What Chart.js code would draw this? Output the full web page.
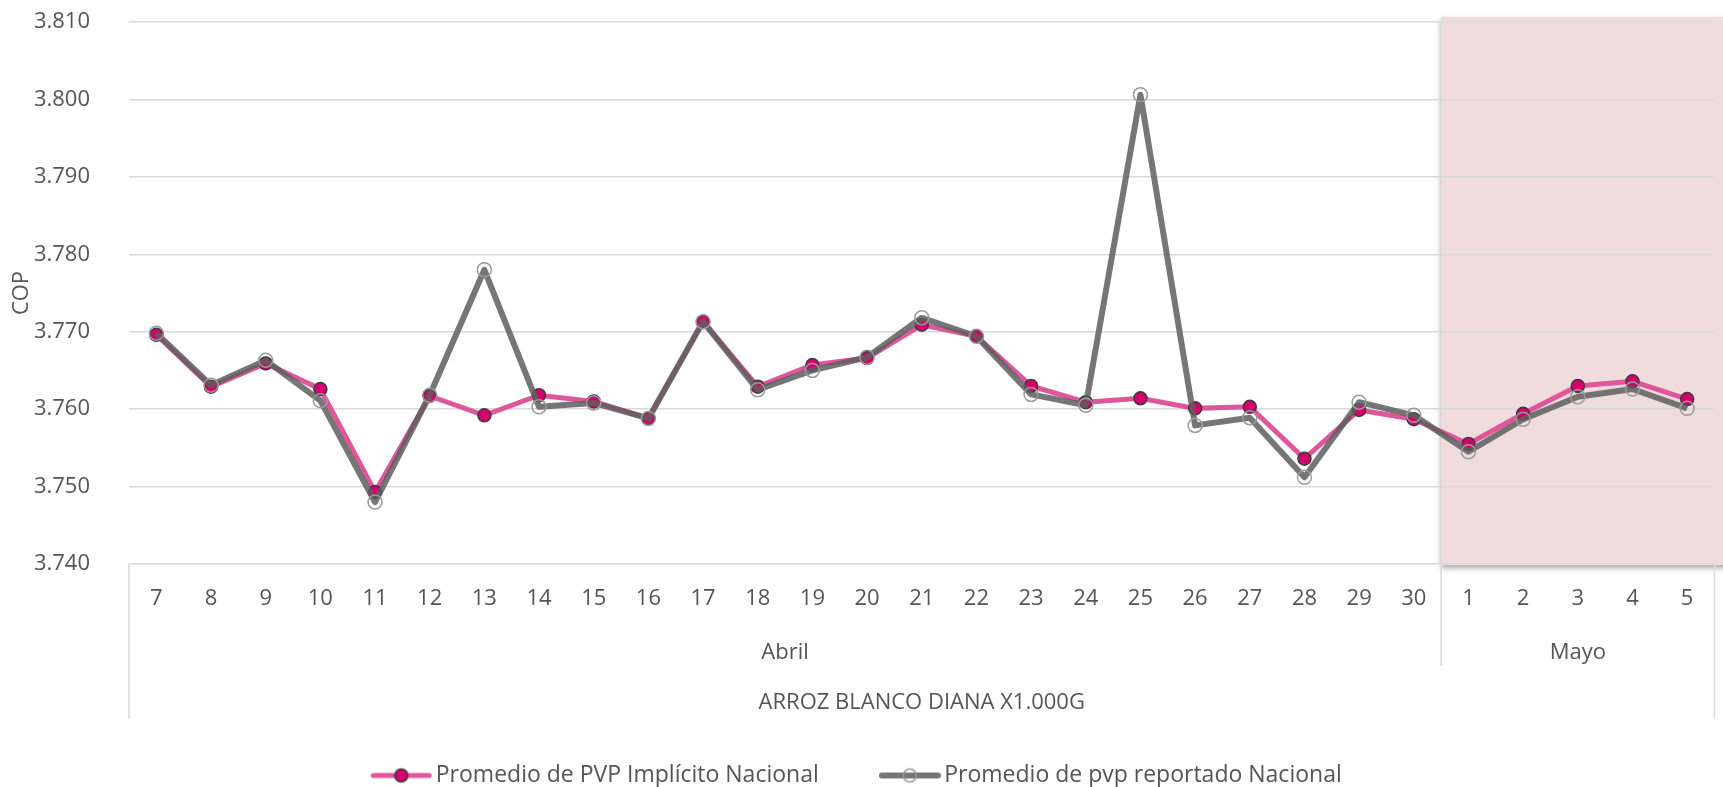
<!DOCTYPE html>
<html>
<head>
<meta charset="utf-8">
<script src="https://cdn.jsdelivr.net/npm/chart.js@4.4.1/dist/chart.umd.min.js"></script>
<style>
  html, body { margin: 0; padding: 0; background: #fff; }
</style>
</head>
<body>
<canvas id="myChart" width="1723" height="787"></canvas>
<script>
// datos
var dias = ['7', '8', '9', '10', '11', '12', '13', '14', '15', '16', '17', '18', '19', '20',
            '21', '22', '23', '24', '25', '26', '27', '28', '29', '30', '1', '2', '3', '4', '5'];
var meses = ['Abril', 'Mayo'];
var diasPorMes = [24, 5];
var producto = 'ARROZ BLANCO DIANA X1.000G';

var pvpImplicito = [3769.6, 3762.9, 3765.9, 3762.6, 3749.3, 3761.7, 3759.2, 3761.8, 3761.0, 3758.8,
                    3771.3, 3762.9, 3765.7, 3766.6, 3770.9, 3769.4, 3763.0, 3760.9, 3761.4, 3760.1,
                    3760.3, 3753.6, 3759.9, 3758.7, 3755.5, 3759.4, 3763.0, 3763.6, 3761.3];
var pvpReportado = [3769.8, 3763.1, 3766.3, 3761.1, 3748.0, 3761.8, 3778.0, 3760.3, 3760.8, 3758.8,
                    3771.3, 3762.5, 3765.0, 3766.7, 3771.8, 3769.4, 3761.9, 3760.5, 3800.6, 3757.9,
                    3758.9, 3751.2, 3760.9, 3759.2, 3754.5, 3758.7, 3761.6, 3762.6, 3760.1];

var yMin = 3740, yMax = 3810, yPaso = 10;

var FONT = '"Segoe UI", "Open Sans", sans-serif';
var TEXT = '#555555';
var LINEA_EJE = '#d9d9d9';

// icono de leyenda: linea + marcador
function iconoLeyenda(color, ancho, relleno, borde) {
    var c = document.createElement('canvas');
    c.width = 62; c.height = 18;
    var g = c.getContext('2d');
    g.strokeStyle = color; g.lineWidth = ancho; g.lineCap = 'round';
    g.beginPath(); g.moveTo(3, 9); g.lineTo(59, 9); g.stroke();
    g.beginPath(); g.arc(31, 9, 6.5, 0, Math.PI * 2);
    g.fillStyle = relleno; g.fill();
    g.lineWidth = 1.5; g.strokeStyle = borde; g.stroke();
    return c;
}
var iconos = [
    iconoLeyenda('#df579b', 5, '#d5006d', '#3c3c3c'),
    iconoLeyenda('#767676', 6, 'rgba(0,0,0,0)', '#9a9a9a')
];

// fondo rosado para mayo y etiquetas agrupadas del eje x
var plugExcel = {
    id: 'excel',
    beforeDraw: function (chart) {
        var ctx = chart.ctx, a = chart.chartArea, x = chart.scales.x;
        var corte = (x.getPixelForValue(diasPorMes[0] - 1) + x.getPixelForValue(diasPorMes[0])) / 2;
        ctx.save();
        ctx.shadowColor = 'rgba(0,0,0,0.35)';
        ctx.shadowBlur = 6;
        ctx.shadowOffsetY = 3;
        ctx.fillStyle = '#f0dcdc';
        ctx.fillRect(corte, a.top - 5, chart.width - corte + 10, a.bottom - a.top + 6);
        ctx.restore();
    },
    afterDraw: function (chart) {
        var ctx = chart.ctx, a = chart.chartArea, x = chart.scales.x;
        var corte = (x.getPixelForValue(diasPorMes[0] - 1) + x.getPixelForValue(diasPorMes[0])) / 2;
        ctx.save();
        ctx.strokeStyle = LINEA_EJE;
        ctx.lineWidth = 1.5;
        ctx.beginPath();
        ctx.moveTo(a.left, a.bottom); ctx.lineTo(a.left, a.bottom + 155);
        ctx.moveTo(corte, a.bottom); ctx.lineTo(corte, a.bottom + 102);
        ctx.moveTo(a.right, a.bottom); ctx.lineTo(a.right, a.bottom + 155);
        ctx.stroke();
        ctx.fillStyle = TEXT;
        ctx.font = '22px ' + FONT;
        ctx.textAlign = 'center';
        ctx.textBaseline = 'middle';
        ctx.fillText(meses[0], (a.left + corte) / 2, a.bottom + 89);
        ctx.fillText(meses[1], (corte + a.right) / 2, a.bottom + 89);
        ctx.fillText(producto, (a.left + a.right) / 2, a.bottom + 139);
        ctx.restore();
    }
};

var ctx = document.getElementById('myChart');
var myChart = new Chart(ctx, {
    type: 'line',
    data: {
        labels: dias,
        datasets: [{
            label: 'Promedio de PVP Implícito Nacional',
            data: pvpImplicito,
            order: 2,
            borderColor: '#df579b',
            borderWidth: 5,
            pointRadius: 6.5,
            pointBorderWidth: 1.5,
            pointBackgroundColor: '#d5006d',
            pointBorderColor: '#3c3c3c',
            tension: 0
        }, {
            label: 'Promedio de pvp reportado Nacional',
            data: pvpReportado,
            order: 1,
            borderColor: 'rgba(94,94,94,0.85)',
            borderWidth: 6,
            borderJoinStyle: 'round',
            pointRadius: 7,
            pointBorderWidth: 1.5,
            pointBackgroundColor: 'rgba(0,0,0,0)',
            pointBorderColor: '#9a9a9a',
            tension: 0
        }]
    },
    options: {
        responsive: false,
        animation: false,
        layout: { padding: { top: 22, right: 3, left: 0, bottom: -10 } },
        scales: {
            x: {
                offset: true,
                grid: { display: false, drawTicks: false },
                border: { display: false },
                ticks: { color: TEXT, font: { family: FONT, size: 22 }, padding: 22, maxRotation: 0, autoSkip: false },
                afterFit: function (s) { s.height = 132; }
            },
            y: {
                min: yMin,
                max: yMax,
                grid: { color: LINEA_EJE, lineWidth: 1.5, drawTicks: false },
                border: { display: false },
                ticks: {
                    stepSize: yPaso,
                    color: TEXT,
                    font: { family: FONT, size: 22 },
                    padding: 39,
                    callback: function (v) {
                        var r = String(v % 1000);
                        while (r.length < 3) r = '0' + r;
                        return Math.floor(v / 1000) + '.' + r;
                    }
                },
                title: { display: true, text: 'COP', color: TEXT, font: { family: FONT, size: 22 }, padding: { top: 9, bottom: 0 } },
                afterFit: function (s) {
                    s.width = 129;
                    s.paddingTop = 12;
                    s.paddingBottom = 12;
                }
            }
        },
        plugins: {
            tooltip: { enabled: false },
            legend: {
                position: 'bottom',
                labels: {
                    color: TEXT,
                    font: { family: FONT, size: 23 },
                    usePointStyle: true,
                    pointStyleWidth: 46,
                    padding: 68,
                    generateLabels: function (chart) {
                        var items = Chart.defaults.plugins.legend.labels.generateLabels(chart);
                        items.sort(function (a, b) { return a.datasetIndex - b.datasetIndex; });
                        items.forEach(function (it) { it.pointStyle = iconos[it.datasetIndex]; });
                        return items;
                    }
                }
            }
        }
    },
    plugins: [plugExcel]
});
</script>
</body>
</html>
